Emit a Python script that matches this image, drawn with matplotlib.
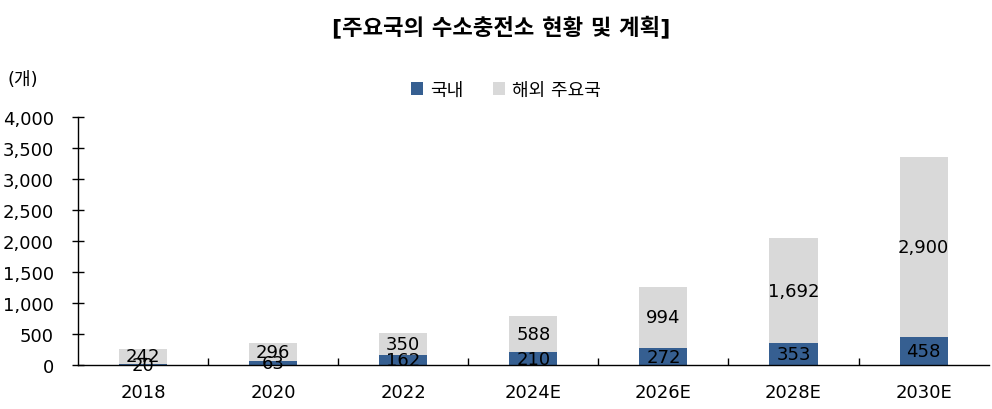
import matplotlib
matplotlib.use("Agg")
from matplotlib import pyplot as plt
import numpy as np

plt.rcParams['font.family'] = ['DejaVu Sans', 'Noto Sans CJK KR']

years = ['2018', '2020', '2022', '2024E', '2026E', '2028E', '2030E']
domestic = [20, 63, 162, 210, 272, 353, 458]
overseas = [242, 296, 350, 588, 994, 1692, 2900]
yticks = [0, 500, 1000, 1500, 2000, 2500, 3000, 3500, 4000]

c_dom = '#365F91'
c_ovs = '#D9D9D9'

fig = plt.figure(figsize=(9.92, 4.10), dpi=100)
ax = fig.add_axes([0.0786, 0.107, 0.918, 0.605])

x = np.arange(len(years))
w = 0.37
ax.bar(x, domestic, w, color=c_dom, label='국내', zorder=2)
ax.bar(x, overseas, w, bottom=domestic, color=c_ovs, label='해외 주요국', zorder=2)

for i in range(len(years)):
    ax.text(x[i], domestic[i] / 2, f"{domestic[i]:,}", ha='center', va='center',
            fontsize=13, color='black', zorder=3)
    ax.text(x[i], domestic[i] + overseas[i] / 2, f"{overseas[i]:,}", ha='center',
            va='center', fontsize=13, color='black', zorder=3)

ax.set_xlim(-0.5, len(years) - 0.5)
ax.set_ylim(0, 4000)
ax.set_yticks(yticks)
ax.set_yticklabels([f"{v:,}" for v in yticks], fontsize=13)
ax.tick_params(axis='y', direction='inout', length=9, width=1, pad=13)

ax.set_xticks(np.arange(0.5, len(years) - 0.5, 1))
ax.set_xticklabels([])
ax.tick_params(axis='x', which='major', direction='in', length=5, width=1)
ax.set_xticks(x, minor=True)
ax.set_xticklabels(years, minor=True, fontsize=13)
ax.tick_params(axis='x', which='minor', length=0, pad=13)

for s in ['top', 'right']:
    ax.spines[s].set_visible(False)
for s in ['left', 'bottom']:
    ax.spines[s].set_linewidth(1)
    ax.spines[s].set_color('black')

fig.text(0.505, 0.935, '[주요국의 수소충전소 현황 및 계획]', ha='center', va='center',
         fontsize=16, fontweight='bold')
fig.text(0.008, 0.805, '(개)', ha='left', va='center', fontsize=13)

ax.legend(loc='center', bbox_to_anchor=(0.47, 1.11), ncol=2, frameon=False,
          fontsize=13, handlelength=0.7, handleheight=0.7, handletextpad=0.4,
          columnspacing=1.6)

fig.savefig('out.png', dpi=100)
